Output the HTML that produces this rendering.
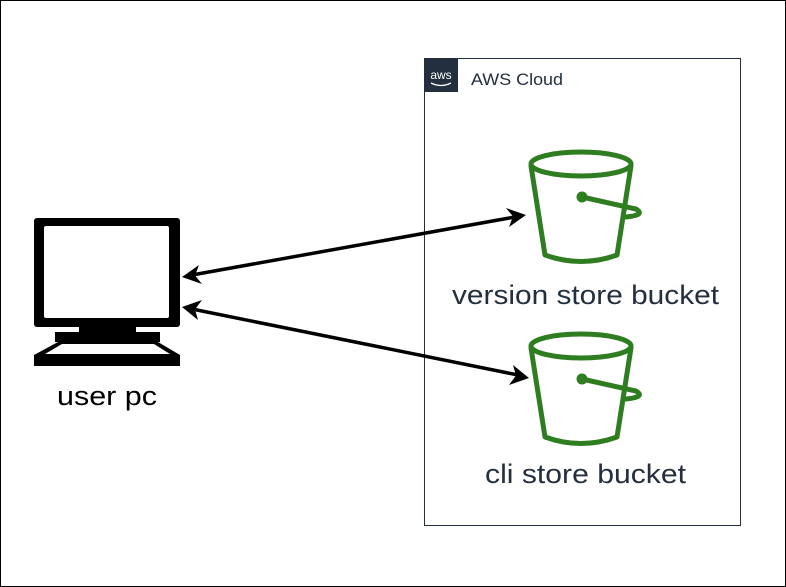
<!DOCTYPE html>
<html><head><style>
html,body{margin:0;padding:0;background:#fff;}
svg{display:block;}
text{font-family:"Liberation Sans",Arial,sans-serif;}
</style></head><body>
<svg width="786" height="587" viewBox="0 0 786 587" xmlns="http://www.w3.org/2000/svg">
<rect x="0.5" y="0.5" width="785" height="586" fill="#fff" stroke="#000" stroke-width="1"/>
<rect x="424.5" y="58.5" width="316" height="467" fill="none" stroke="#232F3E" stroke-width="1"/>
<rect x="424" y="58" width="34" height="34" fill="#232F3E"/>
<text x="441" y="79" font-size="12" fill="#fff" text-anchor="middle">aws</text>
<path d="M431 83 Q441 88 451 83" fill="none" stroke="#fff" stroke-width="1.3"/>
<text x="471" y="85" font-size="17" fill="#232F3E" textLength="92" lengthAdjust="spacingAndGlyphs">AWS Cloud</text>
<g fill="none" stroke="#2E7D20" stroke-width="5" stroke-linejoin="round" stroke-linecap="round">
<ellipse cx="581" cy="164" rx="50" ry="12"/>
<path d="M531 166 L545 255 Q581 268 617 255 L631 166"/>
<path d="M582 197 L636 209 Q646 215 626 217"/>
<circle cx="582" cy="197" r="3" fill="#2E7D20"/>
</g>
<g fill="none" stroke="#2E7D20" stroke-width="5" stroke-linejoin="round" stroke-linecap="round" transform="translate(0,182)">
<ellipse cx="581" cy="164" rx="50" ry="12"/>
<path d="M531 166 L545 255 Q581 268 617 255 L631 166"/>
<path d="M582 197 L636 209 Q646 215 626 217"/>
<circle cx="582" cy="197" r="3" fill="#2E7D20"/>
</g>
<text x="452" y="304" font-size="27" fill="#232F3E" textLength="267" lengthAdjust="spacingAndGlyphs">version store bucket</text>
<text x="485" y="483" font-size="27" fill="#232F3E" textLength="201" lengthAdjust="spacingAndGlyphs">cli store bucket</text>
<rect x="34" y="218" width="146" height="109" rx="3" fill="#000"/>
<rect x="44" y="226" width="125" height="92" rx="2" fill="#fff"/>
<rect x="79" y="326" width="57" height="8" fill="#000"/>
<rect x="55" y="332" width="105" height="10" fill="#000"/>
<path d="M58 342 L158 342 L180 355 L180 366 L34 366 L34 355 Z" fill="#000"/>
<path d="M62 344 L154 344 L170 354 L45 354 Z" fill="#fff"/>
<text x="57" y="405" font-size="27" fill="#000" textLength="100" lengthAdjust="spacingAndGlyphs">user pc</text>
<g stroke="#000" stroke-width="3.5" fill="none">
<line x1="192" y1="275" x2="515" y2="217"/>
<line x1="192" y1="309" x2="518" y2="375"/>
</g>
<g fill="#000">
<path d="M182 277 L199 265 L195 275.5 L202 284 Z"/>
<path d="M526 215 L509 227 L513 216.5 L506 208 Z"/>
<path d="M182 307 L202 300 L195 309.5 L198 320 Z"/>
<path d="M529 378 L509 385 L516 375.5 L513 365 Z"/>
</g>
</svg>
</body></html>
